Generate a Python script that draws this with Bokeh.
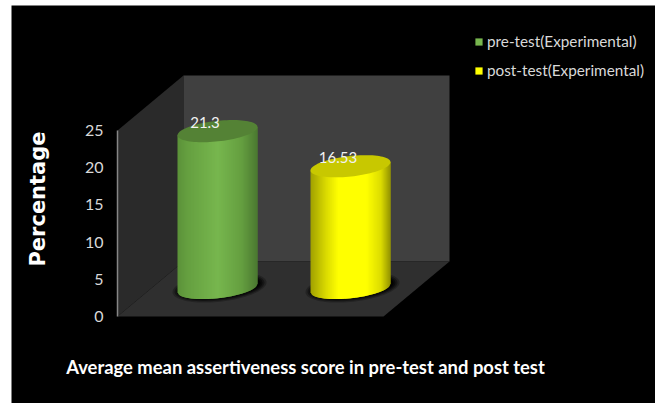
import numpy as np
from bokeh.embed import file_html
from bokeh.layouts import column, row
from bokeh.models import (ColumnDataSource, FixedTicker, Label, Legend, LegendItem,
                          LinearAxis, Range1d, Spacer)
from bokeh.plotting import figure
from bokeh.resources import INLINE

# Chart values
series_names = ["pre-test(Experimental)", "post-test(Experimental)"]
series_values = [21.3, 16.53]
value_labels = ["21.3", "16.53"]
y_ticks = [0, 5, 10, 15, 20, 25]
title_text = "Average mean assertiveness score in pre-test and post test"
y_title = "Percentage"

# Bar shading, left edge to right edge of each cylinder
green_stops = [(0.0, "#5b9139"), (0.12, "#659f40"), (0.5, "#77b64e"), (0.8, "#659f40"), (1.0, "#4b7830")]
yellow_stops = [(0.0, "#a0a000"), (0.2, "#dcdc00"), (0.35, "#ffff00"), (0.7, "#ffff00"), (0.88, "#dcdc00"), (1.0, "#929200")]
top_colors = ["#548235", "#c8c800"]

# Layout of the pseudo-3D box, x in page pixels, y in axis units
PX_PER_UNIT = 7.44
OFFSET_X, OFFSET_Y = 11, 5
WIDTH, HEIGHT = 644, 398
BOX_LEFT = 117
AXIS_ZERO_PX = 316
DEPTH_X, DEPTH_Y = 66, 55 / PX_PER_UNIT
BOX_RIGHT = 383
DEPTH_SCALE = 0.99
BASE_Y = (AXIS_ZERO_PX - 287.5) / PX_PER_UNIT
CENTERS = [217, 350]
RADIUS_X = 40
RADIUS_Y = 10.3 / PX_PER_UNIT
SHEAR = 0.104 / PX_PER_UNIT


def y_from_px(px):
    return (AXIS_ZERO_PX - px) / PX_PER_UNIT


p = figure(width=WIDTH, height=HEIGHT, output_backend="svg", toolbar_location=None,
           x_range=Range1d(OFFSET_X, OFFSET_X + WIDTH),
           y_range=Range1d(y_from_px(OFFSET_Y + HEIGHT), y_from_px(OFFSET_Y)),
           x_axis_location=None, y_axis_location=None,
           min_border_left=0, min_border_right=0, min_border_top=0, min_border_bottom=0,
           background_fill_color="black", border_fill_color="black", outline_line_color=None)
p.grid.visible = False

# Walls and floor of the box
top = y_ticks[-1]
p.patch([BOX_LEFT, BOX_LEFT + DEPTH_X, BOX_LEFT + DEPTH_X, BOX_LEFT],
        [0, DEPTH_Y, top + DEPTH_Y, top], fill_color="#2a2a2a", line_color=None)
p.patch([BOX_LEFT + DEPTH_X, BOX_RIGHT + DEPTH_X, BOX_RIGHT + DEPTH_X, BOX_LEFT + DEPTH_X],
        [DEPTH_Y, DEPTH_Y, top + DEPTH_Y, top + DEPTH_Y], fill_color="#404040", line_color=None)
p.patch([BOX_LEFT, BOX_RIGHT, BOX_RIGHT + DEPTH_X, BOX_LEFT + DEPTH_X],
        [0, 0, DEPTH_Y, DEPTH_Y], fill_color="#2f2f2f", line_color=None)


def shade(stops, t):
    xs = [s[0] for s in stops]
    rgb = [[int(s[1][i:i + 2], 16) for i in (1, 3, 5)] for s in stops]
    return "#%02x%02x%02x" % tuple(int(round(np.interp(t, xs, [c[k] for c in rgb]))) for k in range(3))


def ellipse_outline(cx, cy, rx, ry, n=90):
    t = np.linspace(0, 2 * np.pi, n)
    x = cx + rx * np.cos(t)
    y = cy + (x - cx) * SHEAR + ry * np.sin(t)
    return x.tolist(), y.tolist()


legend_items = []
for name, val, label, cx, stops, top_color in zip(series_names, series_values, value_labels,
                                                  CENTERS, [green_stops, yellow_stops], top_colors):
    top_y = BASE_Y + val * DEPTH_SCALE

    # Soft shadow on the floor
    for grow, alpha in [(7, 0.25), (5, 0.35), (3, 0.5), (1, 0.7)]:
        sx, sy = ellipse_outline(cx + 2, BASE_Y + 0.1, RADIUS_X + grow, RADIUS_Y + grow * 0.6 / PX_PER_UNIT)
        p.patch(sx, sy, fill_color="black", fill_alpha=alpha, line_color=None)

    # Cylinder body as one-pixel vertical strips carrying the shading
    edges = np.arange(cx - RADIUS_X, cx + RADIUS_X + 1)
    xs, ys, colors = [], [], []
    for x0 in edges[:-1]:
        # Each strip runs one pixel past its neighbour so no seams show between them
        seg = np.array([x0, min(x0 + 2, edges[-1])])
        u = np.clip((seg - cx) / RADIUS_X, -1, 1)
        lower = BASE_Y + (seg - cx) * SHEAR - RADIUS_Y * np.sqrt(1 - u ** 2)
        upper = top_y + (seg - cx) * SHEAR
        xs.append([seg[0], seg[1], seg[1], seg[0]])
        ys.append([lower[0], lower[1], upper[1], upper[0]])
        colors.append(shade(stops, (x0 + 0.5 - edges[0]) / (edges[-1] - edges[0])))
    body = p.patches("xs", "ys", fill_color="colors", line_color=None,
                     source=ColumnDataSource(dict(xs=xs, ys=ys, colors=colors)))
    legend_items.append(LegendItem(label=name, renderers=[body], index=len(xs) // 2))

    # Top face
    tx, ty = ellipse_outline(cx, top_y, RADIUS_X, RADIUS_Y)
    p.patch(tx, ty, fill_color=top_color, line_color=None)

    # Value label sitting on the top face
    p.add_layout(Label(x=cx - 12.5, y=top_y + 1.15, text=label, text_color="#f2f2f2", text_font="Lato",
                       text_font_size="15px", text_align="center", text_baseline="middle"))

# Value axis along the front left edge
axis = LinearAxis(ticker=FixedTicker(ticks=y_ticks), bounds=(0, 25), fixed_location=BOX_LEFT)
axis.axis_line_color = "#868686"
axis.axis_line_width = 1.5
axis.major_tick_line_color = None
axis.minor_tick_line_color = None
axis.major_tick_out = 0
axis.major_label_standoff = 14
axis.major_label_text_color = "#d9d9d9"
axis.major_label_text_font = "Lato"
axis.major_label_text_font_size = "16px"
p.add_layout(axis, "left")

# Axis title and chart caption
p.add_layout(Label(x=37, y=y_from_px(198.5), text=y_title, angle=np.pi / 2, text_color="white",
                   text_font="DejaVu Sans", text_font_style="bold", text_font_size="21px",
                   text_align="center", text_baseline="middle"))
p.add_layout(Label(x=305, y=y_from_px(366), text=title_text, text_color="white", text_font="Lato",
                   text_font_style="bold", text_font_size="18.4px", text_align="center",
                   text_baseline="middle"))

legend = Legend(items=legend_items, location=(463, 323), orientation="vertical",
                background_fill_alpha=0, border_line_color=None, margin=0, padding=0,
                spacing=9, glyph_width=9, glyph_height=9, label_standoff=4, label_height=20,
                label_text_color="#d9d9d9", label_text_font="Lato", label_text_font_size="15.3px")
p.add_layout(legend)

page = column(Spacer(height=OFFSET_Y), row(Spacer(width=OFFSET_X), p))
open("out.html", "w").write(file_html(page, INLINE))
